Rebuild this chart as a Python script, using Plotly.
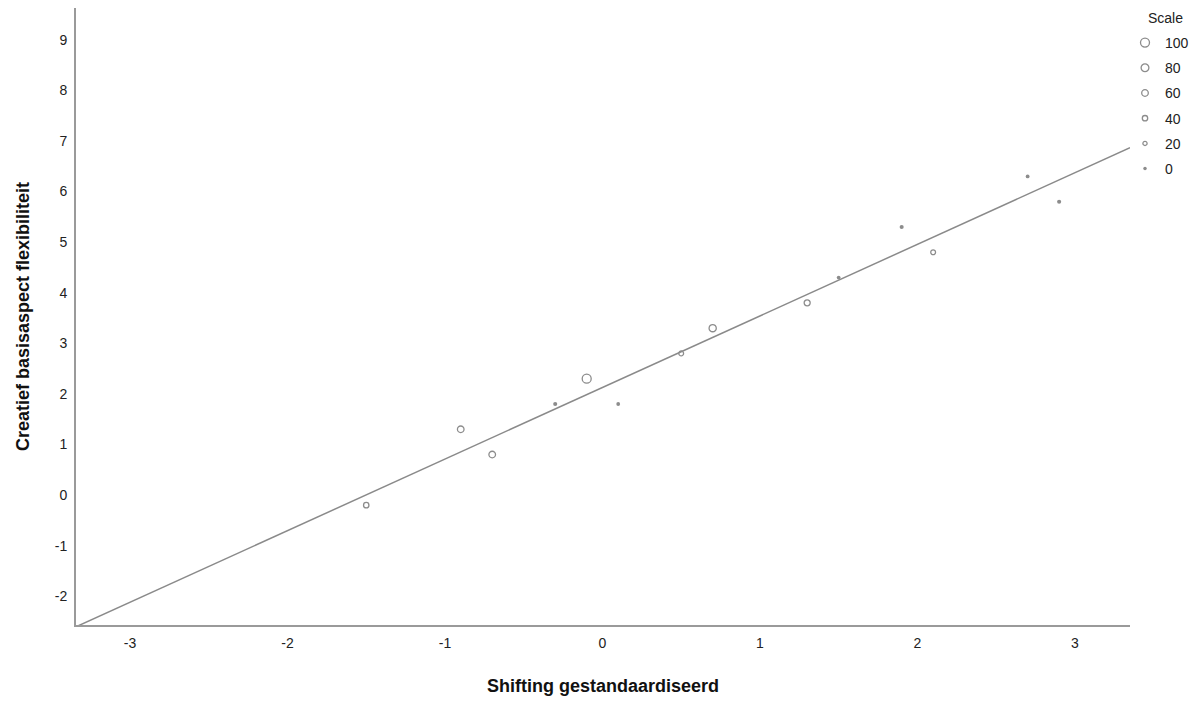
import numpy as np
import plotly.graph_objects as go

# Data
shifting = [-1.5, -0.9, -0.7, -0.3, -0.1, 0.1, 0.5, 0.7, 1.3, 1.5, 1.9, 2.1, 2.7, 2.9]
flexibiliteit = [-0.2, 1.3, 0.8, 1.8, 2.3, 1.8, 2.8, 3.3, 3.8, 4.3, 5.3, 4.8, 6.3, 5.8]
scale = [40, 60, 60, 10, 100, 5, 30, 70, 50, 5, 10, 30, 5, 10]
legend_scale = [100, 80, 60, 40, 20, 0]
x_ticks = [-3, -2, -1, 0, 1, 2, 3]
y_ticks = [-2, -1, 0, 1, 2, 3, 4, 5, 6, 7, 8, 9]

GRAY = "#8c8c8c"
X_RANGE = [-3.343, 3.35]
Y_RANGE = [-2.57, 9.63]


def msize(s):
    return 3 + s * 0.06


def marker_for(s):
    if s <= 12:
        return dict(size=msize(s) + 0.5, symbol="circle", color=GRAY,
                    line=dict(width=0, color=GRAY))
    return dict(size=msize(s), symbol="circle-open", color=GRAY,
                line=dict(width=1.3, color=GRAY))


fig = go.Figure()

# regression line
slope, intercept = np.polyfit(shifting, flexibiliteit, 1)
lx = np.array(X_RANGE)
fig.add_trace(go.Scatter(x=lx, y=slope * lx + intercept, mode="lines",
                         line=dict(color="#8a8a8a", width=1.5),
                         showlegend=False, hoverinfo="skip"))

for xv, yv, s in zip(shifting, flexibiliteit, scale):
    fig.add_trace(go.Scatter(x=[xv], y=[yv], mode="markers",
                             marker=marker_for(s), showlegend=False))

for s in legend_scale:
    fig.add_trace(go.Scatter(
        x=[None], y=[None], mode="markers", name=str(s), legendgroup=str(s),
        marker=marker_for(s)))

fig.add_annotation(text="Scale", xref="paper", yref="paper",
                   x=(1146 - 76) / 1054, y=1 - (18 - 8) / 617,
                   xanchor="left", yanchor="middle", showarrow=False,
                   font=dict(size=14, color="#222"))

fig.update_layout(
    width=1201, height=702,
    paper_bgcolor="white", plot_bgcolor="white",
    margin=dict(l=76, r=71, t=8, b=77, autoexpand=False),
    font=dict(family="Liberation Sans, Arial, sans-serif", color="#222", size=14),
    showlegend=True,
    legend=dict(x=(1125 - 76) / 1054, xanchor="left",
                y=1 - (27 - 8) / 617, yanchor="top",
                font=dict(size=14), itemsizing="trace",
                tracegroupgap=4, itemwidth=30,
                bgcolor="rgba(0,0,0,0)"),
    xaxis=dict(range=X_RANGE, tickvals=x_ticks,
               ticktext=[str(v) for v in x_ticks],
               showgrid=False, zeroline=False,
               showline=True, linecolor="#9a9a9a", linewidth=2, ticks="",
               ticklabelstandoff=4,
               title=dict(text="<b>Shifting gestandaardiseerd</b>",
                          font=dict(size=18, color="#111"), standoff=30)),
    yaxis=dict(range=Y_RANGE, tickvals=y_ticks,
               ticktext=[str(v) for v in y_ticks],
               showgrid=False, zeroline=False,
               showline=True, linecolor="#9a9a9a", linewidth=2, ticks="",
               ticklabelstandoff=4,
               title=dict(text="<b>Creatief basisaspect flexibiliteit</b>",
                          font=dict(size=18, color="#111"), standoff=20)),
)

fig.write_html("out.html")
